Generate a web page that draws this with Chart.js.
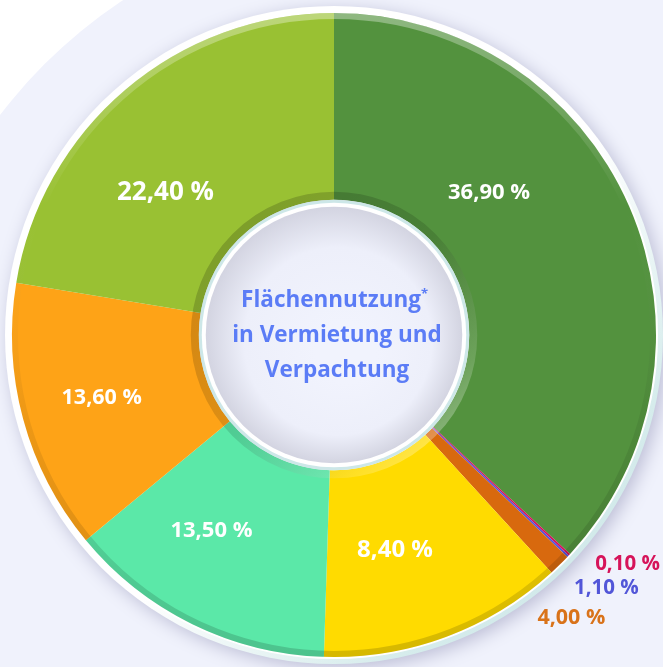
<!DOCTYPE html>
<html>
<head>
<meta charset="utf-8">
<script src="https://cdn.jsdelivr.net/npm/chart.js@4.4.1/dist/chart.umd.min.js"></script>
<style>
html, body { margin: 0; padding: 0; background: #fff; }
#wrap { width: 663px; height: 667px; }
</style>
</head>
<body>
<div id="wrap"><canvas id="chartFlaeche" width="663" height="667"></canvas></div>
<script>
// printed shares (label text) and slice sizes as drawn in the graphic
const shareLabels = ['36,90 %', '0,10 %', '1,10 %', '4,00 %', '8,40 %', '13,50 %', '13,60 %', '22,40 %'];
const sliceValues = [36.9, 0.1, 0.1, 1.1, 12.3, 13.5, 13.6, 22.4];
const sliceColors = ['#53923e', '#d6145a', '#5a52dc', '#d8690e', '#ffdb00', '#5be8a8', '#fea317', '#99c133'];
const centerTitle = ['Flächennutzung', 'in Vermietung und', 'Verpachtung'];

// label style: angle nudge (deg), radius nudge (px), font size, colour
const labelStyle = [
    {da: -19, dr: -18, size: 22, color: '#ffffff'},
    {da: -5, dr: 144, size: 20.5, color: '#d6145a'},
    {da: -0.5, dr: 143, size: 20.5, color: '#5256d8'},
    {da: 4.5, dr: 141, size: 21.5, color: '#d9731a'},
    {da: 4.5, dr: -5, size: 24, color: '#ffffff'},
    {da: 6, dr: 2, size: 22, color: '#ffffff'},
    {da: 0, dr: 12, size: 21.5, color: '#ffffff'},
    {da: -9.5, dr: -8, size: 26, color: '#ffffff'}
];

const FONT = '"Open Sans", "Noto Sans", sans-serif';

const decoPlugin = {
    id: 'deco',
    beforeDraw(chart) {
        const ctx = chart.ctx;
        ctx.save();
        ctx.fillStyle = '#ffffff';
        ctx.fillRect(0, 0, chart.width, chart.height);
        ctx.fillStyle = '#f0f2fc';
        ctx.beginPath();
        ctx.arc(400, 420, 503, 0, Math.PI * 2);
        ctx.fill();
        ctx.restore();
    },
    beforeDatasetsDraw(chart) {
        const arc = chart.getDatasetMeta(0).data[0];
        const ctx = chart.ctx;
        const cx = arc.x, cy = arc.y, R = arc.outerRadius;
        ctx.save();
        ctx.shadowColor = 'rgba(90,90,140,0.35)';
        ctx.shadowBlur = 18;
        ctx.shadowOffsetX = 4;
        ctx.shadowOffsetY = 4;
        const g = ctx.createLinearGradient(cx - R, cy - R, cx + R, cy + R);
        g.addColorStop(0, '#ffffff');
        g.addColorStop(0.55, '#ffffff');
        g.addColorStop(0.8, '#d6ecec');
        g.addColorStop(1, '#c9e4e6');
        ctx.fillStyle = g;
        ctx.beginPath();
        ctx.arc(cx, cy, R + 7, 0, Math.PI * 2);
        ctx.fill();
        ctx.shadowColor = 'transparent';
        ctx.fillStyle = '#ffffff';
        ctx.beginPath();
        ctx.arc(cx, cy, R + 2, 0, Math.PI * 2);
        ctx.fill();
        ctx.restore();
    },
    afterDatasetsDraw(chart) {
        const meta = chart.getDatasetMeta(0);
        const first = meta.data[0];
        const ctx = chart.ctx;
        const cx = first.x, cy = first.y, R = first.outerRadius, r0 = first.innerRadius;
        ctx.save();
        // outer rim shading: light at top, dark at bottom
        let g = ctx.createLinearGradient(cx, cy - R, cx, cy + R);
        g.addColorStop(0, 'rgba(255,255,255,0.35)');
        g.addColorStop(0.3, 'rgba(255,255,255,0.0)');
        g.addColorStop(0.6, 'rgba(0,0,0,0.06)');
        g.addColorStop(1, 'rgba(0,0,0,0.16)');
        ctx.strokeStyle = g;
        ctx.lineWidth = 6;
        ctx.beginPath();
        ctx.arc(cx, cy, R - 3, 0, Math.PI * 2);
        ctx.stroke();
        // inner rim shading: dark top-left, light bottom-right
        g = ctx.createLinearGradient(cx - r0, cy - r0, cx + r0, cy + r0);
        g.addColorStop(0, 'rgba(0,0,0,0.2)');
        g.addColorStop(0.5, 'rgba(0,0,0,0.12)');
        g.addColorStop(0.8, 'rgba(255,255,255,0.15)');
        g.addColorStop(1, 'rgba(255,255,255,0.5)');
        ctx.strokeStyle = g;
        ctx.lineWidth = 9;
        ctx.beginPath();
        ctx.arc(cx, cy, r0 + 3.5, 0, Math.PI * 2);
        ctx.stroke();
        // hole: cyan rim, white ring, shaded inside
        ctx.fillStyle = '#cde7e8';
        ctx.beginPath();
        ctx.arc(cx, cy, r0, 0, Math.PI * 2);
        ctx.fill();
        ctx.fillStyle = '#ffffff';
        ctx.beginPath();
        ctx.arc(cx, cy, r0 - 3, 0, Math.PI * 2);
        ctx.fill();
        g = ctx.createRadialGradient(cx + 12, cy + 18, 30, cx, cy, r0 - 7);
        g.addColorStop(0, '#f1f3fd');
        g.addColorStop(0.65, '#edeffa');
        g.addColorStop(1, '#d3d4e1');
        ctx.fillStyle = g;
        ctx.beginPath();
        ctx.arc(cx, cy, r0 - 7, 0, Math.PI * 2);
        ctx.fill();

        // centre title
        ctx.fillStyle = '#5b7cf6';
        ctx.font = 'bold 22.5px ' + FONT;
        ctx.textAlign = 'center';
        ctx.textBaseline = 'middle';
        const w0 = ctx.measureText(centerTitle[0]).width;
        ctx.fillText(centerTitle[0], cx - 3, cy - 34);
        ctx.font = 'bold 13px ' + FONT;
        ctx.textAlign = 'left';
        ctx.fillText('*', cx - 3 + w0 / 2, cy - 41);
        ctx.font = 'bold 22.5px ' + FONT;
        ctx.textAlign = 'center';
        ctx.fillText(centerTitle[1], cx + 3, cy + 1);
        ctx.fillText(centerTitle[2], cx + 3, cy + 36);

        // slice labels
        meta.data.forEach((el, i) => {
            const st = labelStyle[i];
            const mid = (el.startAngle + el.endAngle) / 2 + st.da * Math.PI / 180;
            const rad = (el.innerRadius + el.outerRadius) / 2 + st.dr;
            ctx.font = 'bold ' + st.size + 'px ' + FONT;
            ctx.fillStyle = st.color;
            ctx.fillText(shareLabels[i], cx + Math.cos(mid) * rad, cy + Math.sin(mid) * rad);
        });
        ctx.restore();
    }
};

const ctx = document.getElementById('chartFlaeche').getContext('2d');
const myChart = new Chart(ctx, {
    type: 'doughnut',
    data: {
        labels: shareLabels,
        datasets: [{
            data: sliceValues,
            backgroundColor: sliceColors,
            borderWidth: 0
        }]
    },
    options: {
        responsive: false,
        animation: false,
        events: [],
        cutout: '42%',
        layout: { padding: { left: 5, right: 0, top: 13, bottom: 10 } },
        plugins: {
            legend: { display: false },
            tooltip: { enabled: false }
        }
    },
    plugins: [decoPlugin]
});
</script>
</body>
</html>
